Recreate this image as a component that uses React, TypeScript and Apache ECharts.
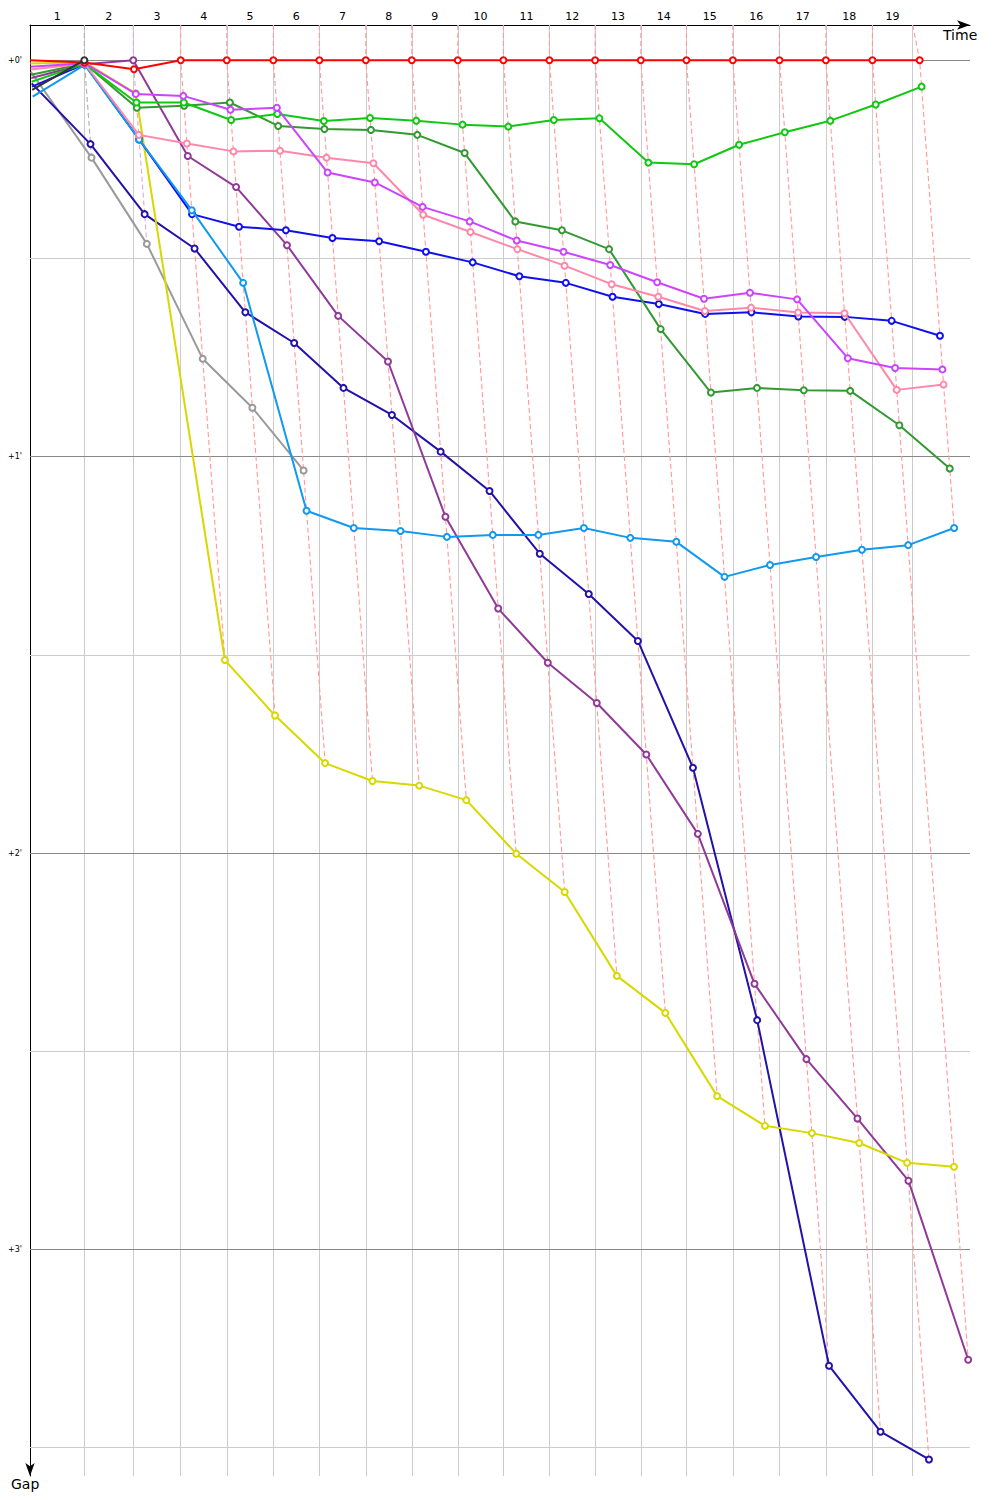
import React, { useEffect, useRef } from "react";
import * as echarts from "echarts";

// Leader lap-crossing times (s) used as the lap grid; lap k gridline.
const lapGridTimes = [111.6, 212.2, 309.6, 404.2, 499.9, 594.4, 689.8, 784.3, 878.8, 972.5, 1067.0, 1160.9, 1254.8, 1348.5, 1443.8, 1539.6, 1634.9, 1730.6, 1813.1];
// Leader's time at the end of lap k (index 0 = start)
const leaderTimes = [0, 111.6, 212.2, 309.6, 404.2, 499.9, 594.4, 689.8, 784.3, 878.8, 972.5, 1067.0, 1160.9, 1254.8, 1348.5, 1443.8, 1539.6, 1634.9, 1730.6, 1827.6];
const lapLabels = ["1", "2", "3", "4", "5", "6", "7", "8", "9", "10", "11", "12", "13", "14", "15", "16", "17", "18", "19"];
const gapMajorTicks = [0, 60, 120, 180];
const gapMinorTicks = [30, 90, 150, 210];

// Gaps to leader in seconds, index = lap (0 = start)
const redGaps = [0, 0.35, 1.38, 0, 0, 0, 0, 0, 0, 0, 0, 0, 0, 0, 0, 0, 0, 0, 0, 0];
const purpleGaps = [2.7, 0.6, 0, 14.5, 19.2, 28.0, 38.7, 45.6, 69.1, 83.0, 91.2, 97.3, 105.1, 117.1, 139.8, 151.2, 160.2, 169.6, 196.7];
const yellowGaps = [0.5, 0.3, 5.0, 90.8, 99.2, 106.4, 109.1, 109.8, 112.0, 120.1, 125.9, 138.6, 144.2, 156.8, 161.3, 162.4, 163.9, 166.9, 167.5];
const magentaGaps = [1.0, 0.45, 5.1, 5.4, 7.5, 7.2, 17.0, 18.5, 22.2, 24.4, 27.3, 29.0, 31.0, 33.6, 36.1, 35.2, 36.2, 45.1, 46.6, 46.8];
const pinkGaps = [1.4, 0.5, 11.3, 12.6, 13.8, 13.7, 14.75, 15.6, 23.4, 26.0, 28.6, 31.1, 33.9, 35.8, 37.95, 37.45, 38.2, 38.3, 49.9, 49.1];
const greenGaps = [3.25, 0.55, 6.4, 6.4, 9.05, 8.15, 9.2, 8.75, 9.15, 9.75, 10.05, 9.05, 8.8, 15.5, 15.75, 12.8, 10.9, 9.15, 6.7, 4.0];
const darkGreenGaps = [2.2, 0.5, 7.2, 6.9, 6.4, 9.95, 10.4, 10.55, 11.3, 14.05, 24.4, 25.75, 28.6, 40.7, 50.3, 49.6, 49.95, 50.05, 55.25, 61.8];
const blueGaps = [4.0, 0.6, 12.0, 23.3, 25.2, 25.75, 26.9, 27.4, 29.0, 30.6, 32.7, 33.7, 35.8, 36.9, 38.4, 38.15, 38.8, 38.85, 39.45, 41.7];
const skyGaps = [5.5, 0.7, 12.0, 22.7, 33.7, 68.2, 70.8, 71.25, 72.15, 71.85, 71.85, 70.8, 72.3, 72.9, 78.2, 76.4, 75.2, 74.1, 73.4, 70.8];
const navyGaps = [3.5, 12.7, 23.3, 28.5, 38.15, 42.8, 49.6, 53.7, 59.25, 65.2, 74.7, 80.8, 87.9, 107.1, 145.3, 197.6, 207.6, 211.8];
const grayGaps = [1.75, 14.75, 27.8, 45.2, 52.6, 62.1];
const blackGaps = [4.5, 0];

const drivers = [
  { name: "gray", color: "#9a9a9a", gaps: grayGaps },
  { name: "navy", color: "#2211aa", gaps: navyGaps },
  { name: "purple", color: "#903a98", gaps: purpleGaps },
  { name: "yellow", color: "#d8d800", gaps: yellowGaps },
  { name: "blue", color: "#1010ee", gaps: blueGaps },
  { name: "sky", color: "#1199f0", gaps: skyGaps },
  { name: "darkGreen", color: "#339933", gaps: darkGreenGaps },
  { name: "green", color: "#11c811", gaps: greenGaps },
  { name: "pink", color: "#ff88aa", gaps: pinkGaps },
  { name: "magenta", color: "#cc44ff", gaps: magentaGaps },
  { name: "red", color: "#ff0000", gaps: redGaps },
  { name: "black", color: "#333333", gaps: blackGaps },
];

const FONT = "'DejaVu Sans', Verdana, sans-serif";
const X_MAX = 1931;
const Y_MIN = -5.33;
const Y_MAX = 214.3;

function tint(hex: string, f: number): string {
  const n = parseInt(hex.slice(1), 16);
  const r = (n >> 16) & 255, g = (n >> 8) & 255, b = n & 255;
  const m = (c: number) => Math.round(c + (255 - c) * f).toString(16).padStart(2, "0");
  return "#" + m(r) + m(g) + m(b);
}

export default function App() {
  const ref = useRef<HTMLDivElement>(null);
  useEffect(() => {
    document.body.style.margin = "0";
    if (!ref.current) return;
    const chart = echarts.init(ref.current, undefined, { renderer: "svg" });

    const mids = lapGridTimes.map((t, i) => ((i === 0 ? 0 : lapGridTimes[i - 1]) + t) / 2);

    // lap lines (dashed)
    const lapSeries: any[] = [];
    for (let k = 1; k < leaderTimes.length; k++) {
      const pts: { x: number; g: number; color: string }[] = [];
      drivers.forEach((d) => {
        if (d.gaps.length > k) pts.push({ x: leaderTimes[k] + d.gaps[k], g: d.gaps[k], color: d.color });
      });
      pts.sort((a, b) => a.g - b.g);
      const leader = pts[0];
      lapSeries.push({
        type: "line",
        silent: true,
        symbol: "none",
        z: 6,
        lineStyle: { color: tint(leader.color, 0.6), width: 1.1, type: [5, 3] },
        data: [[lapGridTimes[k - 1], Y_MIN], ...pts.map((p) => [p.x, p.g])],
      });
    }

    const driverSeries = drivers.map((d, i) => ({
      type: "line",
      name: d.name,
      silent: true,
      z: 10 + i * 0.01,
      symbol: "emptyCircle",
      symbolSize: 6,
      showAllSymbol: true,
      lineStyle: { color: d.color, width: 2 },
      itemStyle: { color: d.color, borderColor: d.color, borderWidth: 1.3 },
      data: d.gaps.map((g, k) =>
        k === 0 ? { value: [leaderTimes[0] + g, g], symbol: "none" } : [leaderTimes[k] + g, g]
      ),
    }));

    const gridSeries = {
      type: "line",
      silent: true,
      data: [],
      z: 1,
      markLine: {
        silent: true,
        z: 1,
        symbol: ["none", "none"],
        label: { show: false },
        animation: false,
        data: [
          ...lapGridTimes.map((t) => ({ xAxis: t, lineStyle: { color: "#cccccc", width: 1, type: "solid" } })),
          ...gapMinorTicks.map((v) => ({ yAxis: v, lineStyle: { color: "#cccccc", width: 1, type: "solid" } })),
          ...gapMajorTicks.map((v) => ({ yAxis: v, lineStyle: { color: "#888888", width: 1, type: "solid" } })),
        ],
      },
    };

    chart.setOption({
      animation: false,
      backgroundColor: "#ffffff",
      grid: { left: 30, top: 25, width: 940, height: 1451, containLabel: false },
      xAxis: {
        type: "value",
        position: "top",
        min: 0,
        max: X_MAX,
        axisLine: {
          show: true,
          onZero: false,
          symbol: ["none", "arrow"],
          symbolSize: [7, 13],
          lineStyle: { color: "#000", width: 1 },
        },
        axisTick: { show: false },
        splitLine: { show: false },
        axisLabel: {
          customValues: mids,
          margin: 3,
          fontSize: 11,
          fontFamily: FONT,
          color: "#000",
          formatter: (v: number) => {
            let best = 0;
            mids.forEach((m, i) => {
              if (Math.abs(m - v) < Math.abs(mids[best] - v)) best = i;
            });
            return lapLabels[best];
          },
        },
      },
      yAxis: {
        type: "value",
        inverse: true,
        min: Y_MIN,
        max: Y_MAX,
        axisLine: {
          show: true,
          onZero: false,
          symbol: ["arrow", "none"],
          symbolSize: [7, 13],
          lineStyle: { color: "#000", width: 1 },
        },
        axisTick: { show: false },
        splitLine: { show: false },
        axisLabel: {
          customValues: gapMajorTicks,
          margin: 8,
          fontSize: 8,
          fontFamily: FONT,
          color: "#000",
          formatter: (v: number) => "+" + Math.round(v / 60) + "'",
        },
      },
      graphic: [
        { type: "text", left: 943, top: 28, style: { text: "Time", font: "14px " + FONT, fill: "#000" } },
        { type: "text", left: 11, top: 1477, style: { text: "Gap", font: "14px " + FONT, fill: "#000" } },
      ],
      series: [gridSeries, ...lapSeries, ...driverSeries],
    });
    return () => chart.dispose();
  }, []);
  return <div ref={ref} style={{ width: 1000, height: 1500 }} />;
}
